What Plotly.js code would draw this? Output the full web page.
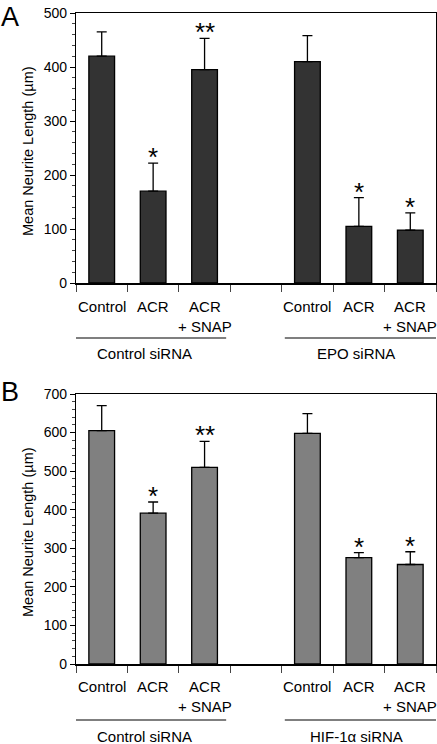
<!DOCTYPE html>
<html>
<head>
<meta charset="utf-8">
<script src="https://cdn.plot.ly/plotly-3.0.1.min.js"></script>
<style>html,body{margin:0;padding:0;background:#fff;}#chart{width:437px;height:744px;}</style>
</head>
<body>
<div id="chart"></div>
<script>
// ---- data ----
const categories = ["Control", "ACR", "ACR<br>+ SNAP", "", "Control", "ACR", "ACR<br>+ SNAP"];
const meanA = [420, 170, 395, null, 410, 105, 98];
const errA  = [45, 52, 58, null, 48, 53, 32];
const starsA = ["", "*", "**", "", "", "*", "*"];
const groupsA = ["Control siRNA", "EPO siRNA"];

const meanB = [605, 391, 510, null, 598, 276, 258];
const errB  = [65, 29, 67, null, 51, 13, 33];
const starsB = ["", "*", "**", "", "", "*", "*"];
const groupsB = ["Control siRNA", "HIF-1\u03b1 siRNA"];

const yTitle = "Mean Neurite Length (\u00b5m)";
const panelLabels = ["A", "B"];

// ---- layout helpers ----
const W = 437, H = 744;
const FONT = "Liberation Sans, Arial, sans-serif";
const py = p => 1 - p / H;
const xpos = categories.map((c, i) => i + 0.5);

function idxs(arr){ return arr.map((v,i)=>v===null?null:i).filter(i=>i!==null); }

function barTrace(mean, err, color, xa, ya){
  const ii = idxs(mean);
  return {
    type: "bar", xaxis: xa, yaxis: ya,
    x: ii.map(i => xpos[i]), y: ii.map(i => mean[i]),
    width: 0.5,
    marker: {color: color, line: {color: "#000", width: 1.3}},
    error_y: {type: "data", array: ii.map(i => err[i]), arrayminus: ii.map(()=>0),
              symmetric: false, color: "#000", thickness: 1.3, width: 5},
    hoverinfo: "skip", showlegend: false
  };
}

const data = [
  barTrace(meanA, errA, "#333333", "x", "y"),
  barTrace(meanB, errB, "#808080", "x2", "y2")
];

const panels = [
  {top: 13, bottom: 283, max: 500, mean: meanA, err: errA, stars: starsA, groups: groupsA,
   xa: "x", ya: "y", label: panelLabels[0], catY: 296, lineY: 338, grpY: 353, letterY: 17},
  {top: 394, bottom: 664, max: 700, mean: meanB, err: errB, stars: starsB, groups: groupsB,
   xa: "x2", ya: "y2", label: panelLabels[1], catY: 676, lineY: 720, grpY: 736, letterY: 392}
];

const annotations = [];
const shapes = [];
const grpLineX = [[0, 2.92], [4.06, 7]];
const grpLabelX = [1.34, 5.45];

panels.forEach(p => {
  categories.forEach((c, i) => {
    if (!c) return;
    annotations.push({xref: p.xa, yref: "paper", x: xpos[i], y: py(p.catY), yanchor: "top",
      xanchor: "center", text: c, showarrow: false, font: {family: FONT, size: 15, color: "#000"}});
  });
  p.stars.forEach((s, i) => {
    if (!s) return;
    annotations.push({xref: p.xa, yref: p.ya, x: xpos[i], y: p.mean[i] + p.err[i], yanchor: "bottom",
      xanchor: "center", yshift: -11, text: s, showarrow: false, font: {family: FONT, size: 26, color: "#000"}});
  });
  p.groups.forEach((g, k) => {
    shapes.push({type: "line", xref: p.xa, yref: "paper", x0: grpLineX[k][0], x1: grpLineX[k][1],
      y0: py(p.lineY), y1: py(p.lineY), line: {color: "#000", width: 1.2}});
    annotations.push({xref: p.xa, yref: "paper", x: grpLabelX[k], y: py(p.grpY), yanchor: "middle",
      xanchor: "center", text: g, showarrow: false, font: {family: FONT, size: 15, color: "#000"}});
  });
  annotations.push({xref: "paper", yref: "paper", x: 28 / W, y: py((p.top + p.bottom) / 2 + 3),
    xanchor: "center", yanchor: "middle", textangle: -90, text: yTitle, showarrow: false,
    font: {family: FONT, size: 14.5, color: "#000"}});
  annotations.push({xref: "paper", yref: "paper", x: 10 / W, y: py(p.letterY), xanchor: "center",
    yanchor: "middle", text: p.label, showarrow: false, font: {family: FONT, size: 27, color: "#000"}});
});

function xAxis(anchor, domain){
  return {domain: domain, anchor: anchor, range: [0, 7], tickmode: "array", tickvals: [0,1,2,3,4,5,6,7],
    showticklabels: false, ticks: "outside", ticklen: 7, tickwidth: 1, tickcolor: "#444",
    showline: true, linecolor: "#000", linewidth: 1.5, mirror: true, showgrid: false, zeroline: false, fixedrange: true};
}
function yAxis(anchor, domain, max){
  return {domain: domain, anchor: anchor, range: [0, max], tickmode: "linear", tick0: 0, dtick: 100,
    ticks: "outside", ticklen: 5, tickwidth: 1, tickcolor: "#000",
    minor: {ticks: "outside", ticklen: 3, tickwidth: 1, tickcolor: "#444", dtick: 20, tick0: 0},
    showline: true, linecolor: "#000", linewidth: 1.2, mirror: true, showgrid: false, zeroline: false,
    tickfont: {family: FONT, size: 14, color: "#000"}, fixedrange: true};
}

const xDom = [76 / W, 436 / W];
const layout = {
  width: W, height: H, margin: {l: 0, r: 0, t: 0, b: 0},
  paper_bgcolor: "#fff", plot_bgcolor: "#fff", showlegend: false,
  font: {family: FONT, size: 14, color: "#000"},
  xaxis: xAxis("y", xDom),
  yaxis: yAxis("x", [py(283), py(13)], 500),
  xaxis2: xAxis("y2", xDom),
  yaxis2: yAxis("x2", [py(664), py(394)], 700),
  annotations: annotations, shapes: shapes
};

Plotly.newPlot("chart", data, layout, {staticPlot: true, displayModeBar: false});
</script>
</body>
</html>
